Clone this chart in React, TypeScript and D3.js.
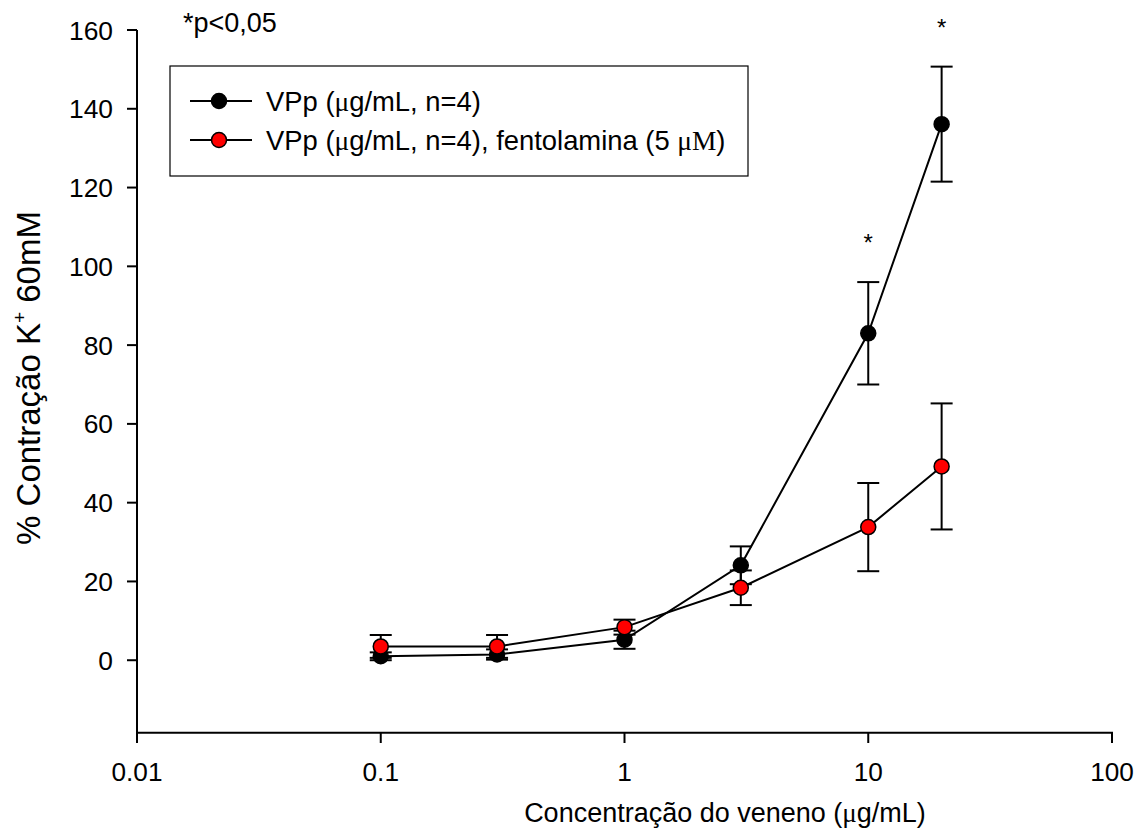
import React from "react";
import * as d3 from "d3";

const concentrations = [0.1, 0.3, 1, 3, 10, 20];
const vppMean = [1.0, 1.45, 5.2, 24.1, 83.0, 136.1];
const vppErr = [1.0, 1.3, 2.3, 4.8, 13.0, 14.6];
const fentMean = [3.5, 3.5, 8.4, 18.4, 33.8, 49.2];
const fentErr = [2.9, 2.9, 1.9, 4.4, 11.2, 16.0];
const significant = [10, 20];
const xTicks = [0.01, 0.1, 1, 10, 100];
const xTickLabels = ["0.01", "0.1", "1", "10", "100"];
const yTicks = [0, 20, 40, 60, 80, 100, 120, 140, 160];

const W = 1144;
const H = 836;
const FONT = "'Liberation Sans', Arial, sans-serif";
const SERIF = "'Liberation Serif', 'Times New Roman', serif";

export default function App() {
  const x = d3.scaleLog().domain([0.01, 100]).range([137, 1112]);
  const y = d3.scaleLinear().domain([-18.4, 160]).range([732.7, 30]);

  const line = d3
    .line<number>()
    .x((_, i) => x(concentrations[i]))
    .y((d) => y(d));

  const series = [
    { mean: vppMean, err: vppErr, fill: "#000000" },
    { mean: fentMean, err: fentErr, fill: "#ff0000" },
  ];
  const cap = 11;
  const r = 7.5;

  return (
    <svg width={W} height={H} style={{ position: "absolute", left: 0, top: 0, background: "#fff" }}>
      <rect x={0} y={0} width={W} height={H} fill="#fff" />
      {/* axes */}
      <line x1={137} x2={137} y1={y(160)} y2={743} stroke="#000" strokeWidth={2} />
      <line x1={136} x2={1113} y1={y.range()[0]} y2={y.range()[0]} stroke="#000" strokeWidth={2} />
      {yTicks.map((t) => (
        <g key={t}>
          <line x1={127} x2={137} y1={y(t)} y2={y(t)} stroke="#000" strokeWidth={2} />
          <text x={113} y={y(t)} dy="0.36em" textAnchor="end" fontFamily={FONT} fontSize={26.4}>
            {t}
          </text>
        </g>
      ))}
      {xTicks.map((t, i) => (
        <g key={t}>
          <line x1={x(t)} x2={x(t)} y1={y.range()[0]} y2={743} stroke="#000" strokeWidth={2} />
          <text x={x(t)} y={781} textAnchor="middle" fontFamily={FONT} fontSize={26.2}>
            {xTickLabels[i]}
          </text>
        </g>
      ))}
      <text x={725} y={822} textAnchor="middle" fontFamily={FONT} fontSize={27}>
        Concentração do veneno (<tspan fontFamily={SERIF}>μ</tspan>g/mL)
      </text>
      <text
        transform={`translate(40,${378}) rotate(-90)`}
        textAnchor="middle"
        fontFamily={FONT}
        fontSize={33}
      >
        % Contração K<tspan dy={-14} fontSize={19}>+</tspan>
        <tspan dy={14}> 60mM</tspan>
      </text>
      <text x={183} y={32} fontFamily={FONT} fontSize={27}>
        *p&lt;0,05
      </text>

      {/* series */}
      {series.map((s, si) => (
        <g key={si}>
          <path d={line(s.mean) || ""} fill="none" stroke="#000" strokeWidth={2} />
          {s.mean.map((m, i) => {
            const cx = x(concentrations[i]);
            const top = y(m + s.err[i]);
            const bot = y(m - s.err[i]);
            return (
              <g key={i}>
                <line x1={cx} x2={cx} y1={top} y2={bot} stroke="#000" strokeWidth={2} />
                <line x1={cx - cap} x2={cx + cap} y1={top} y2={top} stroke="#000" strokeWidth={2} />
                <line x1={cx - cap} x2={cx + cap} y1={bot} y2={bot} stroke="#000" strokeWidth={2} />
              </g>
            );
          })}
          {s.mean.map((m, i) => (
            <circle
              key={"c" + i}
              cx={x(concentrations[i])}
              cy={y(m)}
              r={r}
              fill={s.fill}
              stroke="#000"
              strokeWidth={1.5}
            />
          ))}
        </g>
      ))}
      {significant.map((c) => {
        const i = concentrations.indexOf(c);
        return (
          <text
            key={c}
            x={x(c)}
            y={y(vppMean[i] + vppErr[i]) - 31}
            textAnchor="middle"
            fontFamily={FONT}
            fontSize={24}
          >
            *
          </text>
        );
      })}

      {/* legend */}
      <rect x={170} y={66} width={578} height={110} fill="#fff" stroke="#000" strokeWidth={1.2} />
      {series.map((s, i) => {
        const ly = 101 + i * 39;
        return (
          <g key={"l" + i}>
            <line x1={190} x2={252} y1={ly} y2={ly} stroke="#000" strokeWidth={2} />
            <circle cx={219} cy={ly} r={r} fill={s.fill} stroke="#000" strokeWidth={1.5} />
            <text x={266} y={ly} dy="0.36em" fontFamily={FONT} fontSize={27.4}>
              VPp (<tspan fontFamily={SERIF}>μ</tspan>g/mL, n=4)
              {i === 1 ? (
                <>
                  , fentolamina (5 <tspan fontFamily={SERIF}>μM</tspan>)
                </>
              ) : null}
            </text>
          </g>
        );
      })}
    </svg>
  );
}
